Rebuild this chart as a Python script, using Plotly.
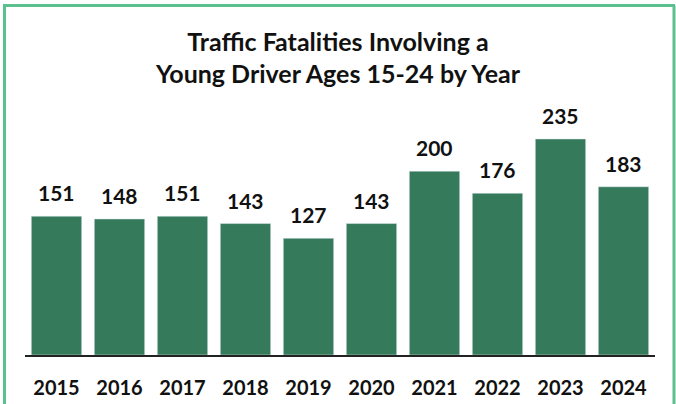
import plotly.graph_objects as go

years = ["2015", "2016", "2017", "2018", "2019", "2020", "2021", "2022", "2023", "2024"]
fatalities = [151, 148, 151, 143, 127, 143, 200, 176, 235, 183]

W, H = 676, 404
ML, MR, MT, MB = 25, 21, 116, 49
pw, ph = W - ML - MR, H - MT - MB


def px_x(x):
    return (x - ML) / pw


def px_y(y):
    return (H - MB - y) / ph


font = "Lato, 'Open Sans', Arial, sans-serif"

fig = go.Figure(go.Bar(
    x=years, y=fatalities,
    marker_color="#357a5a",
    width=0.8,
))

# value labels above the bars (x as category index)
for i, v in enumerate(fatalities):
    fig.add_annotation(
        x=i, y=v, text=f"<b>{v}</b>", showarrow=False,
        yanchor="bottom", yshift=9,
        font=dict(size=21, color="#111111", family=font),
    )

fig.update_layout(
    width=W, height=H,
    margin=dict(l=ML, r=MR, t=MT, b=MB),
    paper_bgcolor="white", plot_bgcolor="white",
    title=dict(
        text="<b>Traffic Fatalities Involving a<br>Young Driver Ages 15-24 by Year</b>",
        x=0.5, xanchor="center", y=0.875, yanchor="top",
        font=dict(size=25, color="#111111", family=font),
    ),
    xaxis=dict(
        type="category", range=[-0.5, len(years) - 0.5],
        showline=True, linecolor="#222222", linewidth=1.5,
        tickfont=dict(size=20, color="#111111", family=font),
        tickprefix="<b>", ticksuffix="</b>",
        ticks="", ticklabelstandoff=14, automargin=False,
    ),
    yaxis=dict(range=[0, 260], visible=False, showgrid=False, automargin=False),
    showlegend=False,
    bargap=0.2,
    shapes=[
        dict(type="line", xref="paper", yref="paper",
             x0=px_x(4.5), x1=px_x(4.5), y0=px_y(5.5), y1=px_y(420),
             line=dict(color="#5bbf8e", width=3)),
        dict(type="line", xref="paper", yref="paper",
             x0=px_x(3), x1=px_x(675), y0=px_y(5.5), y1=px_y(5.5),
             line=dict(color="#5bbf8e", width=3)),
        dict(type="line", xref="paper", yref="paper",
             x0=px_x(674), x1=px_x(674), y0=px_y(5.5), y1=px_y(420),
             line=dict(color="#5bbf8e", width=3)),
    ],
)

fig.write_html("out.html", config={"displayModeBar": False},
               post_script="document.body.style.margin='0';")
